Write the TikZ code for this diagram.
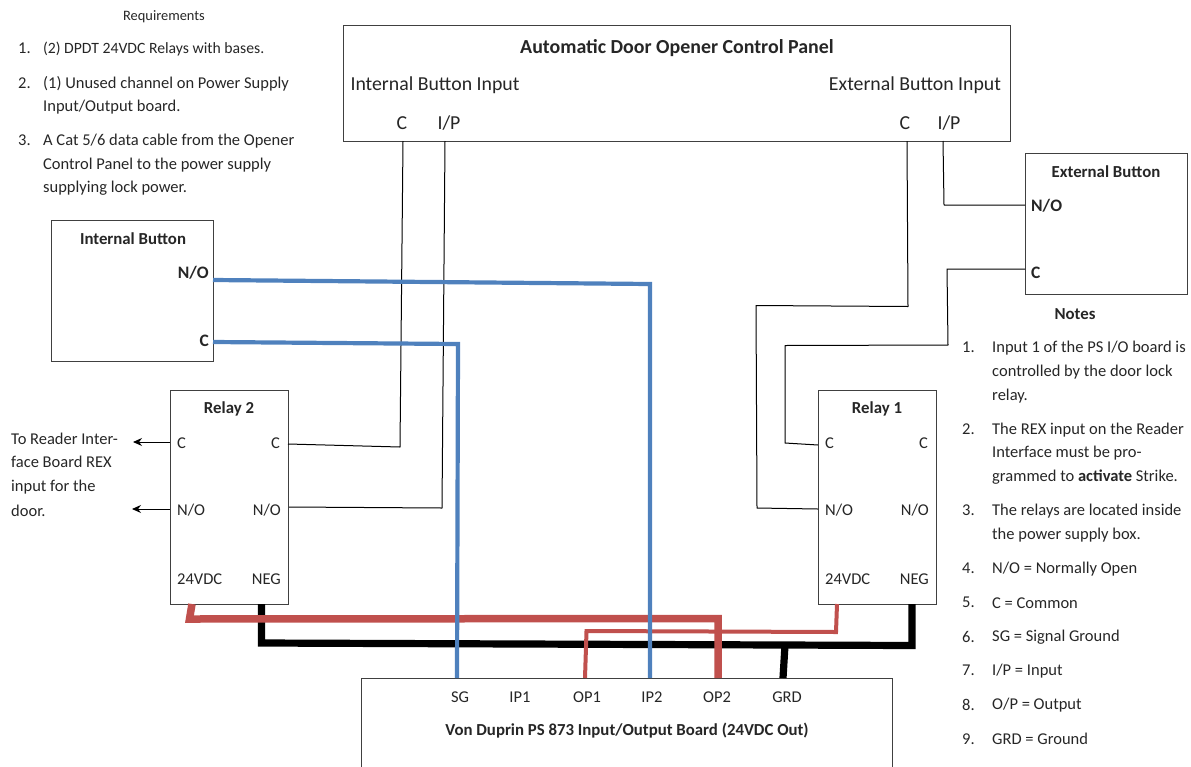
\documentclass[tikz,border=0pt]{standalone}
\usepackage{fontspec}
\setmainfont{Carlito}
\usetikzlibrary{arrows.meta}
\definecolor{wred}{HTML}{C0504D}
\definecolor{wblue}{HTML}{4F81BD}
\definecolor{boxc}{HTML}{404040}
\tikzset{
 box/.style={draw=boxc,line width=1pt,fill=white,anchor=north west,inner sep=0pt,outer sep=0pt},
 txt/.style={anchor=west,inner sep=0pt,yshift=-0.7pt,font=\fontsize{16.5}{18}\selectfont,text=black!85},
 ctr/.style={anchor=center,inner sep=0pt,yshift=-0.7pt,font=\fontsize{16.5}{18}\selectfont,text=black!85},
 big/.style={anchor=center,inner sep=0pt,yshift=-0.7pt,font=\fontsize{19.8}{22}\selectfont,text=black!85},
 bld/.style={font=\fontsize{16.8}{18}\selectfont\bfseries},
 term/.style={font=\fontsize{17.5}{18}\selectfont\bfseries},
 thinw/.style={draw=black,line width=1pt,line join=round},
 bluew/.style={draw=wblue,line width=4.2pt,line join=miter},
 redthick/.style={draw=wred,line width=7.5pt,line join=miter},
 redthin/.style={draw=wred,line width=4pt,line join=miter},
 blackw/.style={draw=black,line width=7.2pt,line join=miter},
 outw/.style={draw=black,line width=1pt,-{Stealth[length=9pt,width=8pt]}}
}
\begin{document}
\begin{tikzpicture}[x=1pt,y=-1pt]
\useasboundingbox (0,0) rectangle (1191,766);
\clip (0,0) rectangle (1191,766);
% boxes
\node[box,minimum width=667pt,minimum height=116pt] (panel) at (343,25) {};
\node[box,minimum width=162pt,minimum height=141pt] (ext) at (1025,153) {};
\node[box,minimum width=162pt,minimum height=141pt] (int) at (51,220) {};
\node[box,minimum width=118pt,minimum height=214pt] (rtwo) at (170,390) {};
\node[box,minimum width=118pt,minimum height=214pt] (rone) at (818,390) {};
\node[box,minimum width=531pt,minimum height=120pt] (board) at (361,678) {};
% port coordinates
\coordinate (pcl) at (403,141);
\coordinate (pil) at (445,141);
\coordinate (pcr) at (907,141);
\coordinate (pir) at (943,141);
\coordinate (eno) at (1025,205);
\coordinate (ec) at (1025,269);
\coordinate (ino) at (213,280);
\coordinate (ic) at (213,342);
\coordinate (rtcr) at (288,444);
\coordinate (rtnr) at (289,507);
\coordinate (rtcl) at (170,442);
\coordinate (rtnl) at (170,509);
\coordinate (atc) at (133,442);
\coordinate (atn) at (132,509);
\coordinate (rocl) at (818,445);
\coordinate (ronl) at (818,509);
\coordinate (rtv) at (192,604);
\coordinate (rtg) at (261.5,604);
\coordinate (rov) at (837,604);
\coordinate (rog) at (912,604);
\coordinate (bsg) at (457,678);
\coordinate (bop1) at (585,678);
\coordinate (bip2) at (650,678);
\coordinate (bop2) at (718,678);
\coordinate (bgrd) at (783,678);
% thin wires
\draw[thinw] (pcl) -- (400,447) -- (rtcr);
\draw[thinw] (pil) -- (442,508) -- (rtnr);
\draw[thinw] (pcr) -- (908,306.5) -- (756,305.5) -- (757,508) -- (ronl);
\draw[thinw] (pir) -- (944,205) -- (eno);
\draw[thinw] (ec) -- (947,269) -- (948,345) -- (785,345.5) -- (785,443) -- (rocl);
\draw[outw] (rtcl) -- (atc);
\draw[outw] (rtnl) -- (atn);
% power wires
\draw[blackw] (rtg) -- (261.5,643) -- (912,645.5) -- (rog);
\draw[blackw] (785,645) -- (bgrd);
\draw[redthin] (rov) -- (836,632) -- (586.5,631) -- (bop1);
\draw[redthick] (rtv) -- (189.5,619) -- (718,618.5) -- (bop2);
\draw[bluew] (ino) -- (650,284) -- (bip2);
\draw[bluew] (ic) -- (458,344) -- (bsg);
% panel text
\node[big,font=\fontsize{19.9}{22}\selectfont\bfseries] (ptitle) at (677,47) {Automatic Door Opener Control Panel};
\node[big] (pinl) at (435,85) {Internal Button Input};
\node[big] (pinr) at (915,85) {External Button Input};
\node[big] (pclt) at (402,122) {C};
\node[big] (pilt) at (449,122) {I/P};
\node[big] (pcrt) at (905,122) {C};
\node[big] (pirt) at (949,122) {I/P};
% buttons
\node[ctr,bld] (intt) at (133,238) {Internal Button};
\node[ctr,term,anchor=east] (intno) at (209,272) {N/O};
\node[ctr,term,anchor=east] (intc) at (209,340) {C};
\node[ctr,bld] (extt) at (1106,171) {External Button};
\node[txt,term] (extno) at (1031,205) {N/O};
\node[txt,term] (extc) at (1031,272) {C};
% relays
\node[ctr,bld] (rtt) at (229,408) {Relay 2};
\node[txt] (rt1) at (177,442) {C};
\node[txt,anchor=east] (rt2) at (280,442) {C};
\node[txt] (rt3) at (177,509) {N/O};
\node[txt,anchor=east] (rt4) at (281,509) {N/O};
\node[txt] (rt5) at (177,578) {24VDC};
\node[txt,anchor=east] (rt6) at (281,578) {NEG};
\node[ctr,bld] (rot) at (877,408) {Relay 1};
\node[txt] (ro1) at (825,442) {C};
\node[txt,anchor=east] (ro2) at (928,442) {C};
\node[txt] (ro3) at (825,509) {N/O};
\node[txt,anchor=east] (ro4) at (929,509) {N/O};
\node[txt] (ro5) at (825,578) {24VDC};
\node[txt,anchor=east] (ro6) at (929,578) {NEG};
% board
\foreach \x/\s [count=\i] in {460/SG,520/IP1,587/OP1,652/IP2,717/OP2,787/GRD}
  \node[ctr] (b\i) at (\x,696) {\s};
\node[ctr,bld] (btitle) at (627,730) {Von Duprin PS 873 Input/Output Board (24VDC Out)};
% left text
\node[ctr,font=\fontsize{14.4}{16}\selectfont] (reqt) at (164,16) {Requirements};
\foreach \x/\y/\s [count=\i] in {
 18/48/{1.},
 18/83/{2.}, 43/83/{(1) Unused channel on Power Supply},
 43/106/{Input/Output board.},
 18/140/{3.}, 43/140/{A Cat 5/6 data cable from the Opener},
 43/164/{Control Panel to the power supply},
 43/187/{supplying lock power.}}
  \node[txt] (req\i) at (\x,\y) {\s};
\node[txt,font=\fontsize{15.7}{18}\selectfont] (reqa) at (43,48) {(2) DPDT 24VDC Relays with bases.};
\foreach \y/\s [count=\i] in {
 438/{To Reader Inter-}, 461/{face Board REX}, 486/{input for the}, 510/{door.}}
  \node[txt] (rd\i) at (11,\y) {\s};
% notes
\node[ctr,bld] (nott) at (1075,313) {Notes};
\foreach \x/\y/\s [count=\i] in {
 962/347/{1.}, 992/347/{Input 1 of the PS I/O board is},
 992/371/{controlled by the door lock},
 992/395/{relay.},
 962/429/{2.}, 992/429/{The REX input on the Reader},
 992/452/{Interface must be pro-},
 992/476/{grammed to \textbf{activate} Strike.},
 962/510/{3.}, 992/510/{The relays are located inside},
 992/534/{the power supply box.},
 962/568/{4.}, 992/568/{N/O = Normally Open},
 962/602/{5.}, 992/602/{C = Common},
 962/636/{6.}, 992/636/{SG = Signal Ground},
 962/670/{7.}, 992/670/{I/P = Input},
 962/704/{8.}, 992/704/{O/P = Output},
 962/738/{9.}, 992/738/{GRD = Ground}}
  \node[txt] (note\i) at (\x,\y) {\s};
\end{tikzpicture}
\end{document}
